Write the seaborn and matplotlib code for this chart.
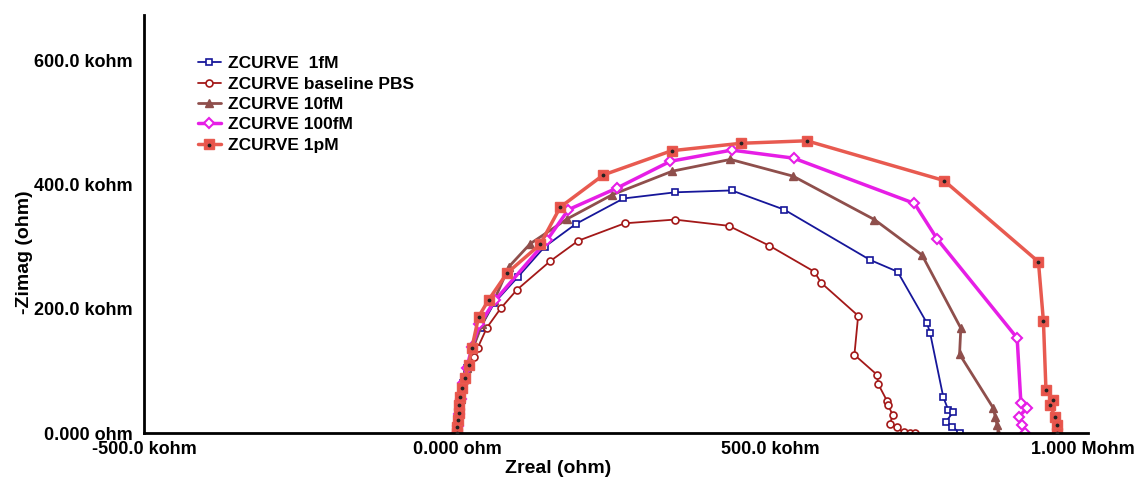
import matplotlib
matplotlib.use("Agg")
import matplotlib.pyplot as plt
import numpy as np
import pandas as pd
import seaborn as sns
from matplotlib.legend_handler import HandlerTuple
from matplotlib.ticker import FixedLocator, MultipleLocator, FuncFormatter

# impedance values in kohm, high frequency (origin) -> low frequency
zr_1fm = [0, 1, 3, 6, 10, 16, 25, 38, 60, 97, 140, 190, 266, 349, 439, 523,
          660, 704, 751, 756, 777, 785, 793, 781, 791, 804]
zi_1fm = [0, 12, 30, 55, 80, 105, 135, 170, 210, 251, 300, 337, 378, 388, 391,
          360, 279, 260, 177, 161, 58, 37, 34, 18, 10, 0]

zr_pbs = [0, 1, 3, 6, 11, 18, 27, 33, 48, 70, 96, 149, 194, 268, 348, 434, 499,
          571, 582, 641, 635, 671, 673, 687, 689, 696, 692, 703, 714, 724, 732]
zi_pbs = [0, 12, 30, 55, 82, 105, 123, 137, 170, 201, 231, 277, 310, 338, 344,
          334, 302, 260, 242, 189, 126, 94, 79, 52, 45, 29, 15, 9, 1, 0, 0]

zr_10fm = [0, 1, 3, 6, 10, 16, 25, 40, 60, 83, 117, 176, 248, 344, 437, 537,
           667, 743, 805, 803, 857, 860, 863, 865]
zi_10fm = [0, 12, 30, 55, 80, 105, 135, 175, 215, 268, 305, 345, 384, 422, 441,
           414, 344, 287, 169, 127, 40, 26, 13, 0]

zr_100fm = [0, 1, 3, 6, 10, 16, 24, 36, 61, 144, 178, 256, 341, 439, 538, 731,
            767, 895, 901, 910, 898, 903, 907]
zi_100fm = [0, 12, 30, 55, 80, 105, 139, 175, 214, 311, 360, 395, 438, 456, 443,
            370, 313, 153, 48, 40, 26, 13, 0]

zr_1pm = [0, 0, 1.6, 2.7, 3.7, 5.3, 8, 12.3, 18.7, 24, 34.7, 50.6, 79.9, 133,
          165, 234, 343, 454, 559, 778, 929, 937, 941, 953, 947, 956, 958, 958]
zi_1pm = [0, 10, 21, 31.7, 45, 58.6, 72, 88, 109.7, 137.6, 187.6, 214.5, 257.6,
          304, 364, 416, 455, 467, 471, 407, 276, 180, 70, 54, 45, 26, 13, 0]

labels = ["ZCURVE  1fM", "ZCURVE baseline PBS", "ZCURVE 10fM",
          "ZCURVE 100fM", "ZCURVE 1pM"]

df = pd.concat([
    pd.DataFrame({"zreal": zr_1fm, "zimag": zi_1fm, "curve": labels[0]}),
    pd.DataFrame({"zreal": zr_pbs, "zimag": zi_pbs, "curve": labels[1]}),
    pd.DataFrame({"zreal": zr_10fm, "zimag": zi_10fm, "curve": labels[2]}),
    pd.DataFrame({"zreal": zr_100fm, "zimag": zi_100fm, "curve": labels[3]}),
    pd.DataFrame({"zreal": zr_1pm, "zimag": zi_1pm, "curve": labels[4]}),
], ignore_index=True)

sns.set_style("white")
plt.rcParams["font.family"] = ["Liberation Sans", "DejaVu Sans"]
plt.rcParams["font.weight"] = "bold"
plt.rcParams["text.color"] = "black"
plt.rcParams["axes.labelcolor"] = "black"

styles = {
    labels[0]: dict(color="#16169a", lw=1.3, marker="s", ms=4, mfc="white", mew=1.2),
    labels[1]: dict(color="#a31818", lw=1.3, marker="o", ms=5, mfc="white", mew=1.2),
    labels[2]: dict(color="#8f4f4c", lw=2.0, marker="^", ms=6, mfc="#8f4f4c", mew=1.0),
    labels[3]: dict(color="#e61ee6", lw=2.5, marker="D", ms=5, mfc="white", mew=1.5),
    labels[4]: dict(color="#e85a50", lw=2.5, marker="s", ms=7.5, mfc="#e8534b", mew=1.0),
}

fig = plt.figure(figsize=(11.37, 4.79), dpi=100)
ax = fig.add_axes([0.1266, 0.096, 0.8302, 0.873])

handles = []
for lab in labels:
    sub = df[df["curve"] == lab]
    st = styles[lab]
    sns.lineplot(data=sub, x="zreal", y="zimag", sort=False, estimator=None,
                 color=st["color"], linewidth=st["lw"], marker=st["marker"],
                 markersize=st["ms"], markerfacecolor=st["mfc"],
                 markeredgecolor=st["color"], markeredgewidth=st["mew"],
                 ax=ax, label=lab, legend=False)
    line = ax.get_lines()[-1]
    if lab == labels[4]:
        dots = ax.scatter(sub["zreal"], sub["zimag"], s=3, color="#222222",
                          zorder=5)
        handles.append((line, dots))
    else:
        handles.append(line)

ax.set_xlim(-500, 1008)
ax.set_ylim(0, 674)

def fmt(v, pos=None):
    if abs(v) < 1e-9:
        return "0.000 ohm"
    if abs(v) >= 1000:
        return f"{v / 1000:.3f} Mohm"
    return f"{v:.1f} kohm"

ax.xaxis.set_major_locator(FixedLocator([-500, 0, 500, 1000]))
ax.xaxis.set_minor_locator(MultipleLocator(100))
ax.yaxis.set_major_locator(FixedLocator([0, 200, 400, 600]))
ax.yaxis.set_minor_locator(MultipleLocator(50))
ax.xaxis.set_major_formatter(FuncFormatter(fmt))
ax.yaxis.set_major_formatter(FuncFormatter(fmt))

for s in ["top", "right"]:
    ax.spines[s].set_visible(False)
for s in ["left", "bottom"]:
    ax.spines[s].set_color("black")
    ax.spines[s].set_linewidth(2)

ax.tick_params(which="both", direction="out", length=4, width=1.5,
               colors="black", labelsize=13)
ax.tick_params(axis="x", pad=2)
ax.tick_params(axis="y", pad=4)
for t in ax.get_xticklabels() + ax.get_yticklabels():
    t.set_fontweight("bold")

ax.set_xlabel("Zreal (ohm)", fontsize=14, fontweight="bold", color="black")
ax.set_ylabel("-Zimag (ohm)", fontsize=14, fontweight="bold", color="black")
ax.xaxis.label.set_va("center")
ax.yaxis.label.set_va("center")
ax.xaxis.set_label_coords(0.4386, -0.084)
ax.yaxis.set_label_coords(-0.127, 0.433)

leg = ax.legend(handles, labels, loc="upper left", bbox_to_anchor=(0.048, 0.922),
                frameon=False, handlelength=1.3, handletextpad=0.45,
                labelspacing=0.3, borderpad=0,
                handler_map={tuple: HandlerTuple(ndivide=1)},
                prop={"weight": "bold", "size": 12.5})
for t in leg.get_texts():
    t.set_color("black")

fig.savefig("out.png", dpi=100)
